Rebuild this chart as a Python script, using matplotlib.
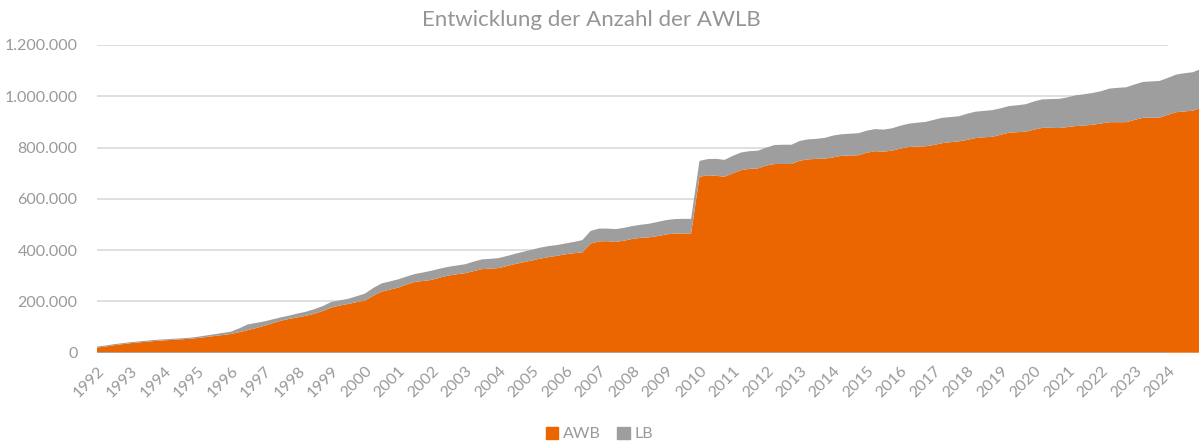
import numpy as np
import matplotlib.pyplot as plt
from matplotlib.patches import Patch
from matplotlib.ticker import FuncFormatter

plt.rcParams['font.family'] = ['Lato', 'DejaVu Sans']

# quarterly values (in thousands), 1992 Q1 .. 2025 Q1
years = list(range(1992, 2025))
total_k = [24, 28, 33, 37,  41, 44, 47, 50,  52, 54, 56, 58,  62, 67, 72, 77,
           82, 95, 110, 116,  122, 130, 138, 145,  153, 160, 170, 182,  198, 204, 210, 220,
           230, 252, 270, 278,  286, 297, 307, 313,  320, 328, 335, 340,  345, 355, 364, 366,
           369, 377, 386, 394,  402, 410, 416, 420,  426, 432, 439, 475,  484, 484, 482, 487,
           494, 499, 503, 510,  517, 521, 522, 522,  748, 755, 756, 752,  768, 781, 786, 788,
           800, 810, 811, 811,  826, 832, 834, 838,  847, 852, 854, 856,  866, 872, 870, 875,
           885, 893, 897, 900,  908, 916, 919, 922,  932, 940, 943, 946,  953, 962, 965, 969,
           980, 988, 989, 990,  996, 1004, 1008, 1013,  1020, 1030, 1033, 1035,  1046, 1056, 1058, 1060,
           1072, 1085, 1090, 1094,  1108]
awb_k = [20, 24, 29, 33,  37, 40, 43, 46,  48, 50, 52, 54,  57, 61, 65, 69,
         73, 80, 88, 96,  105, 115, 125, 132,  138, 144, 152, 163,  176, 184, 190, 197,
         203, 222, 238, 246,  254, 266, 276, 280,  284, 293, 301, 306,  310, 318, 326, 328,
         330, 338, 346, 353,  360, 367, 373, 378,  384, 388, 391, 426,  434, 435, 432, 437,
         444, 448, 450, 455,  461, 465, 465, 465,  686, 692, 690, 686,  700, 712, 717, 719,
         730, 736, 736, 736,  749, 754, 756, 757,  762, 768, 769, 770,  780, 786, 784, 788,
         796, 802, 804, 805,  810, 817, 821, 824,  830, 837, 840, 842,  850, 858, 860, 862,
         870, 877, 877, 876,  880, 884, 886, 889,  894, 899, 899, 899,  908, 916, 917, 917,
         928, 938, 941, 944,  957]

awb = np.array(awb_k) * 1000
lb = np.array(total_k) * 1000 - awb
t = 1992 + np.arange(len(awb)) / 4

orange = '#EB6600'
grey = '#9E9E9E'
txt = '#999999'

fig = plt.figure(figsize=(11.99, 4.46), dpi=100)
ax = fig.add_axes([97 / 1199, 1 - 352.7 / 446, 1 - 97 / 1199, (352.7 - 45) / 446])

ax.stackplot(t, awb, lb, colors=[orange, grey], linewidth=0, zorder=2)

yt = np.arange(0, 1200001, 200000)
ax.hlines(yt[1:], 1992, 2024, color='#d9d9d9', lw=1.2, zorder=1)
ax.hlines(0, 1992, 2024, color='#a6a6a6', lw=1.2, zorder=3)

ax.set_xlim(1992, 2024.925)
ax.set_ylim(0, 1200000)
ax.set_yticks(yt)
ax.yaxis.set_major_formatter(FuncFormatter(lambda v, p: f'{int(v):,}'.replace(',', '.')))
ax.set_xticks(years)
ax.set_xticklabels([str(y) for y in years], rotation=45, ha='right', va='top',
                   rotation_mode='anchor')
ax.tick_params(axis='both', length=0, labelsize=11.5, labelcolor=txt)
ax.tick_params(axis='y', pad=14)
ax.tick_params(axis='x', pad=8)
for s in ax.spines.values():
    s.set_visible(False)

fig.text(591 / 1199, 1 - 20 / 446, 'Entwicklung der Anzahl der AWLB', ha='center', va='center',
         fontsize=16, color='#959595')

handles = [Patch(color=orange, label='AWB'), Patch(color=grey, label='LB')]
fig.legend(handles=handles, loc='center', bbox_to_anchor=(0.5, 1 - 434 / 446), ncol=2,
           frameon=False, fontsize=11.5, labelcolor=txt, handlelength=0.8, handleheight=0.8,
           handletextpad=0.3, columnspacing=1.0, borderpad=0)

fig.savefig('out.png', dpi=100)
